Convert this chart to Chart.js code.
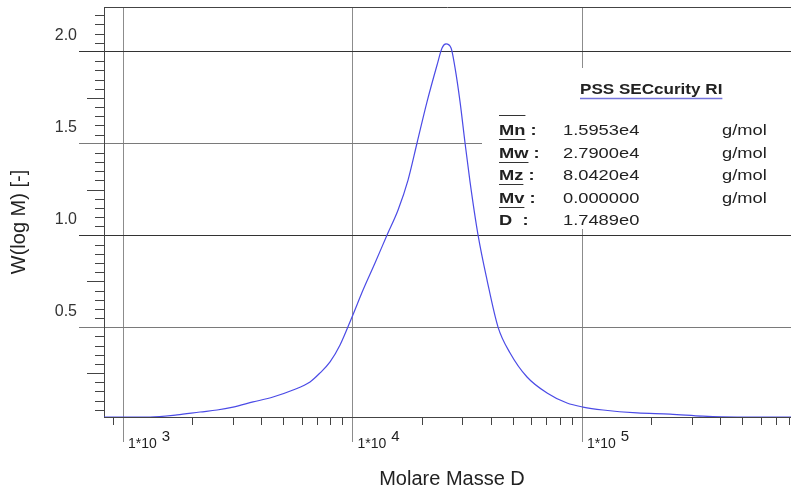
<!DOCTYPE html>
<html>
<head>
<meta charset="utf-8">
<script src="https://cdn.jsdelivr.net/npm/chart.js@4.4.1/dist/chart.umd.min.js"></script>
<style>
  html, body { margin: 0; padding: 0; background: #fff; }
  canvas { display: block; }
</style>
</head>
<body>
<canvas id="mwd" width="791" height="494"></canvas>
<script>
// Molmassenverteilung (SEC / GPC)
var molarMass = [818, 1000, 1311, 1719, 2165, 2568, 3015, 3685, 4504, 5505, 6528, 7217, 7980, 8821,
  9950, 11110, 12530, 14140, 15790, 17450, 19100, 21110, 23350, 24550, 25550, 26870, 27970, 29410,
  30920, 32510, 35220, 38560, 43050, 48580, 57590, 70390, 86010, 101000, 123500, 173700, 241700,
  336700, 473600, 814000];
var wLogM = [0.011, 0.011, 0.011, 0.022, 0.038, 0.049, 0.065, 0.093, 0.12, 0.158, 0.202, 0.251, 0.311, 0.403,
  0.556, 0.703, 0.850, 1.003, 1.139, 1.302, 1.504, 1.728, 1.929, 2.022, 2.044, 2.022, 1.913, 1.728,
  1.504, 1.292, 1.003, 0.757, 0.501, 0.360, 0.229, 0.142, 0.087, 0.065, 0.049, 0.033, 0.027,
  0.016, 0.011, 0.011];

var yTicks = [0.5, 1.0, 1.5, 2.0];
var xDecades = [1e3, 1e4, 1e5];

var statTitle = 'PSS SECcurity RI';
var statNames = ['Mn', 'Mw', 'Mz', 'Mv', 'D '];
var statValues = ['1.5953e4', '2.7900e4', '8.0420e4', '0.000000', '1.7489e0'];
var statUnits = ['g/mol', 'g/mol', 'g/mol', 'g/mol', ''];

var FONT = "'Liberation Sans', Arial, sans-serif";

// kleine Striche, Rahmen oben, Ergebnisfeld
var overlay = {
    id: 'overlay',
    beforeDatasetsDraw: function(chart) {
        var ctx = chart.ctx, a = chart.chartArea;
        var xs = chart.scales.x, ys = chart.scales.y;
        ctx.save();
        // weisses Feld hinter der Tabelle
        ctx.fillStyle = '#fff';
        ctx.fillRect(482, 68, a.right - 482, 161);

        ctx.strokeStyle = '#444';
        ctx.lineWidth = 1;
        ctx.beginPath();
        ctx.moveTo(a.left, Math.round(a.top) + 0.5);
        ctx.lineTo(a.right, Math.round(a.top) + 0.5);
        for (var i = 1; i * 0.05 <= ys.max; i++) {
            if (i % 10 === 0) continue;
            var py = Math.round(ys.getPixelForValue(i * 0.05)) + 0.5;
            var len = (i % 5 === 0) ? 17 : 9;
            ctx.moveTo(a.left - len, py);
            ctx.lineTo(a.left, py);
        }
        for (var d = 100; d <= 1e6; d *= 10) {
            for (var k = 2; k <= 9; k++) {
                var v = d * k;
                if (v < xs.min || v > xs.max) continue;
                var px = Math.round(xs.getPixelForValue(v)) + 0.5;
                ctx.moveTo(px, a.bottom);
                ctx.lineTo(px, a.bottom + 8);
            }
        }
        ctx.stroke();
        ctx.restore();
    },
    afterDraw: function(chart) {
        var ctx = chart.ctx, a = chart.chartArea;
        var xs = chart.scales.x;
        ctx.save();
        ctx.fillStyle = '#222';
        ctx.textBaseline = 'alphabetic';

        // x Beschriftung 1*10^n
        xDecades.forEach(function(v) {
            var px = xs.getPixelForValue(v);
            ctx.font = '14px ' + FONT;
            ctx.textAlign = 'left';
            ctx.fillText('1*10', px + 5, 448);
            var w = ctx.measureText('1*10').width;
            ctx.font = '15px ' + FONT;
            ctx.fillText(String(Math.round(Math.log10(v))), px + 5 + w + 5, 441);
        });

        // Achsentitel
        ctx.font = '20px ' + FONT;
        ctx.textAlign = 'center';
        ctx.fillText('Molare Masse D', 452, 485);
        ctx.save();
        ctx.translate(25, 222);
        ctx.rotate(-Math.PI / 2);
        ctx.fillText('W(log M) [-]', 0, 0);
        ctx.restore();

        // Ergebnistabelle
        var sx = 1.22;
        ctx.textAlign = 'left';
        ctx.save();
        ctx.scale(sx, 1);
        ctx.font = 'bold 14px ' + FONT;
        ctx.fillText(statTitle, 580 / sx, 94);
        var tw = ctx.measureText(statTitle).width * sx;
        ctx.restore();
        ctx.strokeStyle = '#7474dc';
        ctx.lineWidth = 1.5;
        ctx.beginPath();
        ctx.moveTo(580, 98.5);
        ctx.lineTo(580 + tw, 98.5);
        ctx.stroke();

        ctx.strokeStyle = '#333';
        ctx.lineWidth = 1;
        for (var i = 0; i < statNames.length; i++) {
            var by = 135 + i * 22.5;
            ctx.save();
            ctx.scale(sx, 1);
            ctx.font = 'bold 15px ' + FONT;
            ctx.fillText(statNames[i] + ' :', 499 / sx, by);
            var nw = ctx.measureText(statNames[i].trim()).width * sx;
            ctx.font = '15px ' + FONT;
            ctx.fillText(statValues[i], 563 / sx, by);
            ctx.fillText(statUnits[i], 722 / sx, by);
            ctx.restore();
            if (statNames[i].charAt(0) === 'M') {
                ctx.beginPath();
                if (i === 0) {
                    ctx.moveTo(499, 115.5);
                    ctx.lineTo(499 + nw, 115.5);
                }
                ctx.moveTo(499, Math.round(by) + 4.5);
                ctx.lineTo(499 + nw, Math.round(by) + 4.5);
                ctx.stroke();
            }
        }
        ctx.restore();
    }
};

var config = {
    type: 'scatter',
    data: {
        datasets: [{
            label: 'PSS SECcurity RI',
            data: molarMass.map(function(m, i) { return { x: m, y: wLogM[i] }; }),
            showLine: true,
            borderColor: '#4b4be6',
            borderWidth: 1.2,
            pointRadius: 0,
            cubicInterpolationMode: 'monotone'
        }]
    },
    options: {
        responsive: false,
        animation: false,
        devicePixelRatio: 1,
        events: [],
        layout: { padding: { top: 7, left: 0, right: 0, bottom: 0 } },
        plugins: {
            legend: { display: false },
            tooltip: { enabled: false }
        },
        scales: {
            x: {
                type: 'logarithmic',
                min: 826,
                max: 814000,
                afterBuildTicks: function(scale) {
                    scale.ticks = xDecades.map(function(v) { return { value: v }; });
                },
                afterFit: function(scale) {
                    scale.height = 77;
                    scale.paddingLeft = 0;
                    scale.paddingRight = 0;
                },
                ticks: { display: false },
                grid: { color: '#8c8c8c', lineWidth: 1, tickLength: 25 },
                border: { color: '#444', width: 1 }
            },
            y: {
                min: 0.0109,
                max: 2.2452,
                afterBuildTicks: function(scale) {
                    scale.ticks = yTicks.map(function(v) { return { value: v }; });
                },
                afterFit: function(scale) {
                    scale.width = 104;
                    scale.paddingTop = 0;
                    scale.paddingBottom = 0;
                },
                ticks: {
                    padding: 2,
                    labelOffset: -16,
                    color: '#333',
                    font: { family: FONT, size: 16 },
                    callback: function(v) { return Number(v).toFixed(1); }
                },
                grid: {
                    color: function(c) {
                        return (c.tick && c.tick.value % 1 === 0) ? '#333' : '#7a7a7a';
                    },
                    lineWidth: 1,
                    tickLength: 25
                },
                border: { color: '#444', width: 1 }
            }
        }
    },
    plugins: [overlay]
};

var grafico = new Chart(document.getElementById('mwd'), config);
</script>
</body>
</html>
